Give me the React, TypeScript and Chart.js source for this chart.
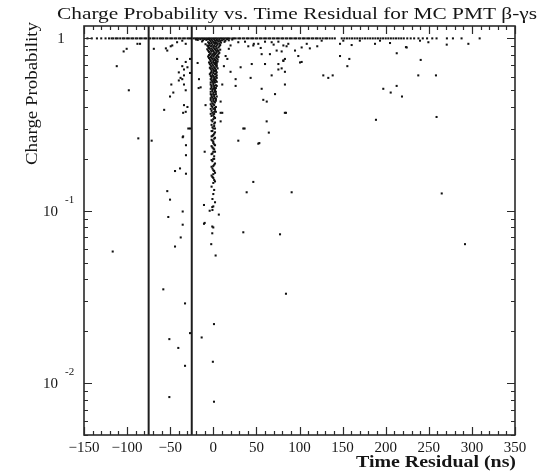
import React, { useEffect, useRef } from "react";
import { Chart, registerables } from "chart.js";

Chart.register(...registerables);

// Axis ranges: time residual (ns) and charge probability (log)
const TIME_RANGE = [-150, 350];
const PROB_RANGE = [0.005, 1.18];

// Time-residual selection cuts (ns)
const cutTimes = [-75, -25];

// Tick labels
const xTickValues = [-150, -100, -50, 0, 50, 100, 150, 200, 250, 300, 350];
const yTickValues = [1, 0.1, 0.01];
const yTickBases = ["1", "10", "10"];
const yTickExponents = ["", "-1", "-2"];

const TITLE = "Charge Probability vs. Time Residual for MC PMT \u03b2-\u03b3s";
const X_TITLE = "Time Residual (ns)";
const Y_TITLE = "Charge Probability";

// Hits that saturate at charge probability 1 (time residual, ns)
const ridgeTimes = [
  -146, -141, -135, -130, -125, -121, -118, -116, -113, -111, -108, -105, -103, -100, -98, -95,
  -93, -90, -88, -85, -83, -80, -78, -75, -73, -70, -68, -65, -62, -60, -58, -55, -53, -50, -48,
  -45, -43, -40, -38, -35, -33, -30, -28, -26, -23, -21, -19, -17, -15, -13, -11, -9, -7, -5, -3,
  -1, 1, 3, 5, 7, 9, 11, 13, 15, 17, 19, 22, 24, 26, 29, 31, 34, 36, 39, 41, 44, 46, 49, 51, 54,
  56, 59, 61, 64, 66, 69, 71, 74, 76, 79, 81, 84, 86, 89, 91, 94, 96, 99, 101, 104, 106, 109, 111,
  114, 116, 119, 121, 124, 127, 130, 132, 135, 138, 141, 149, 152, 155, 158, 161, 164, 167, 170,
  173, 176, 179, 182, 185, 188, 191, 194, 197, 200, 203, 206, 209, 212, 215, 218, 221, 225, 229,
  233, 238, 243, 248, 254, 259, 271, 278, 288, 309,
];

// Prompt peak hits [time residual ns, charge probability]
const promptHits: [number, number][] = [
  [-8, 0.98], [-5, 0.99], [-2, 0.985], [1, 0.99], [4, 0.98], [7, 0.985], [10, 0.975],
  [-6, 0.95], [-3, 0.96], [0, 0.955], [3, 0.95], [6, 0.96], [9, 0.945],
  [-9, 0.925], [-4, 0.93], [-1, 0.92], [2, 0.93], [5, 0.925], [8, 0.915],
  [-6, 0.895], [-3, 0.9], [0, 0.89], [3, 0.895], [6, 0.885],
  [-7, 0.865], [-4, 0.87], [-1, 0.86], [2, 0.865], [5, 0.855], [8, 0.86],
  [-5, 0.835], [-2, 0.84], [1, 0.83], [4, 0.835], [7, 0.825],
  [-4, 0.81], [-1, 0.805], [2, 0.81], [5, 0.8],
  [-6, 0.785], [-3, 0.78], [0, 0.785], [3, 0.775], [6, 0.78],
  [-4, 0.755], [-1, 0.76], [2, 0.75], [5, 0.755],
  [-3, 0.735], [0, 0.73], [3, 0.725], [5, 0.735],
  [-4, 0.71], [-1, 0.705], [2, 0.71], [4, 0.7],
  [-2, 0.685], [1, 0.68], [4, 0.685],
  [-3, 0.665], [0, 0.66], [3, 0.655],
  [-2, 0.64], [1, 0.645], [4, 0.635],
  [-4, 0.62], [-1, 0.615], [2, 0.62],
  [-2, 0.6], [1, 0.595], [3, 0.6],
  [-3, 0.58], [0, 0.575], [2, 0.58],
  [-1, 0.56], [2, 0.555], [4, 0.56],
  [-3, 0.54], [0, 0.54], [3, 0.535],
  [-2, 0.52], [1, 0.52], [3, 0.515],
  [-1, 0.505], [2, 0.5],
  [-3, 0.49], [0, 0.485], [3, 0.49],
  [-2, 0.47], [1, 0.47],
  [-1, 0.455], [2, 0.45], [4, 0.46],
  [-3, 0.44], [0, 0.435],
  [-1, 0.42], [2, 0.425],
  [-2, 0.405], [1, 0.41], [3, 0.4],
  [0, 0.39], [-2, 0.38], [2, 0.385],
  [-1, 0.37], [1, 0.365],
  [-2, 0.355], [1, 0.35],
  [0, 0.34], [-1, 0.33], [2, 0.325],
  [-2, 0.315], [1, 0.31],
  [0, 0.3], [-1, 0.29], [2, 0.285],
  [0, 0.275], [-2, 0.27],
  [1, 0.262], [-1, 0.255],
  [0, 0.247], [2, 0.24],
  [-1, 0.233], [1, 0.227],
  [0, 0.22], [-2, 0.213],
  [1, 0.207], [0, 0.2],
  [-1, 0.194], [2, 0.188],
  [0, 0.182], [-1, 0.176],
  [1, 0.17], [0, 0.163],
  [-1, 0.157], [1, 0.151],
  [0, 0.145], [-2, 0.138], [1, 0.132], [0, 0.125], [-1, 0.117], [2, 0.112], [0, 0.106], [-1, 0.101],
  // denser body of the peak
  [-7, 0.99], [-4, 0.975], [-1, 0.97], [2, 0.97], [5, 0.97], [8, 0.965],
  [-5, 0.94], [-2, 0.94], [1, 0.94], [4, 0.94], [7, 0.935],
  [-7, 0.91], [-5, 0.91], [-2, 0.905], [1, 0.905], [4, 0.91], [7, 0.9],
  [-5, 0.88], [-2, 0.875], [1, 0.875], [4, 0.875],
  [-6, 0.85], [-3, 0.85], [0, 0.845], [3, 0.85], [6, 0.845],
  [-3, 0.82], [0, 0.815], [3, 0.82], [6, 0.815],
  [-5, 0.8], [-2, 0.795], [1, 0.795], [4, 0.79],
  [-5, 0.77], [-2, 0.77], [1, 0.765], [4, 0.765],
  [-3, 0.745], [0, 0.745], [3, 0.74],
  [-2, 0.72], [1, 0.72], [4, 0.72], [-5, 0.725],
  [-3, 0.695], [0, 0.695], [3, 0.695],
  [-4, 0.675], [-1, 0.67], [2, 0.67], [5, 0.67],
  [-2, 0.65], [1, 0.65], [3, 0.645],
  [-3, 0.63], [0, 0.63], [3, 0.625],
  [-3, 0.605], [0, 0.605], [4, 0.61],
  [-2, 0.59], [1, 0.585], [4, 0.59],
  [-2, 0.57], [1, 0.565], [3, 0.57],
  [-3, 0.555], [0, 0.55],
  [-2, 0.53], [1, 0.53], [4, 0.53],
  [-3, 0.51], [0, 0.51], [2, 0.51],
  [-1, 0.495], [2, 0.49],
  [-3, 0.475], [0, 0.475], [3, 0.475],
  [-2, 0.46], [1, 0.46],
  [-3, 0.45], [0, 0.445], [3, 0.445],
  [-2, 0.43], [1, 0.43], [3, 0.435],
  [-3, 0.415], [0, 0.415],
  [-1, 0.4], [2, 0.395],
  [-3, 0.39], [1, 0.375], [3, 0.375],
  [-3, 0.365], [0, 0.36],
  [2, 0.345], [-2, 0.335], [1, 0.32], [-1, 0.305], [2, 0.3], [-2, 0.29], [1, 0.28], [-1, 0.272],
  [2, 0.265], [-2, 0.258], [0, 0.252], [1, 0.243], [-2, 0.237], [0, 0.23], [2, 0.22], [-1, 0.215],
  [1, 0.2], [-2, 0.197], [1, 0.185], [-2, 0.18], [0, 0.172], [2, 0.166], [-2, 0.16], [0, 0.155],
  [2, 0.148],
  // top of the peak, just below saturation
  [-18, 0.98], [-15, 0.99], [-12, 0.975], [-10, 0.99], [12, 0.985], [14, 0.97], [16, 0.99],
  [18, 0.975], [-13, 0.96], [13, 0.955], [22, 0.985], [-20, 0.985],
];

// Early hits, before the prompt peak
const earlyHits: [number, number][] = [
  [-88, 0.93], [-85, 0.93], [-100.5, 0.87], [-104, 0.84], [-112, 0.69], [-98, 0.5], [-87, 0.263],
  [-116.7, 0.058], [-71.5, 0.255], [-69, 0.87], [-55, 0.875], [-53.4, 0.85], [-49.4, 0.9],
  [-47.6, 0.91], [-42, 0.95], [-36, 0.97], [-32, 0.93], [-42, 0.76], [-36, 0.69], [-34, 0.66],
  [-30, 0.68], [-32, 0.73], [-40, 0.635], [-38, 0.59], [-36, 0.58], [-34, 0.61], [-40, 0.57],
  [-48.7, 0.54], [-46.4, 0.485], [-50.2, 0.46], [-34, 0.54], [-32, 0.5], [-57, 0.385], [-34, 0.41],
  [-32, 0.375], [-30, 0.4], [-27, 0.76], [-27, 0.63], [-35, 0.37], [-27, 0.3], [-35, 0.27],
  [-29, 0.3], [-35.5, 0.267], [-31.7, 0.24], [-31.7, 0.21], [-44.4, 0.17], [-38.6, 0.176],
  [-31.7, 0.164], [-53.4, 0.13], [-50.2, 0.116], [-35.5, 0.099], [-52.2, 0.092], [-35.5, 0.083],
  [-37.8, 0.07], [-44.4, 0.062], [-58, 0.035], [-32.8, 0.029], [-51, 0.018], [-40.6, 0.016],
  [-32.8, 0.0126], [-51, 0.0083], [-27, 0.0195], [-16.6, 0.58], [-18.2, 0.72], [-17, 0.515],
  [-14.7, 0.52], [-9, 0.41], [-10, 0.22], [-10.8, 0.108], [-4.2, 0.1], [-10.8, 0.084],
  [-13.5, 0.0184], [-10, 0.085],
];

// Late hits, after the prompt peak
const lateHits: [number, number][] = [
  [6.4, 0.095], [0, 0.08], [-1.2, 0.074], [-2.4, 0.064], [2.7, 0.055], [0.8, 0.022], [-0.5, 0.0133],
  [0.8, 0.0078], [-1.2, 0.105], [-1.2, 0.081], [18, 0.87], [20, 0.91], [14.3, 0.79], [16.3, 0.76],
  [12.3, 0.69], [20, 0.64], [31.7, 0.68], [44.6, 0.71], [60, 0.71], [75.5, 0.71], [81.3, 0.74],
  [75.5, 0.66], [79.3, 0.67], [83.1, 0.64], [25.9, 0.58], [43.3, 0.59], [67.7, 0.61], [10.4, 0.54],
  [25.9, 0.53], [56.1, 0.51], [83.1, 0.54], [71.6, 0.475], [58, 0.44], [62, 0.43], [8.5, 0.43],
  [83, 0.37], [8.5, 0.37], [56.1, 0.81], [65.7, 0.81], [73.5, 0.85], [79.3, 0.84], [83.1, 0.76],
  [98.6, 0.79], [102.5, 0.73], [29, 0.95], [36.8, 0.957], [40.6, 0.9], [46.4, 0.91], [52.2, 0.93],
  [60, 0.957], [67.7, 0.95], [75.5, 0.957], [81.3, 0.91], [87, 0.93], [94.8, 0.85], [102.5, 0.886],
  [108.4, 0.93], [47, 0.93], [55, 0.88], [70, 0.92], [85, 0.9], [100.6, 0.725], [81.2, 0.745],
  [112, 0.875], [120.6, 0.9], [125.7, 0.97], [147, 0.93], [150.8, 0.97], [160.5, 0.915], [170, 0.97],
  [193.4, 0.97], [205, 0.94], [187.6, 0.93], [224.4, 0.886], [239.8, 0.97], [249.5, 0.95],
  [212.8, 0.82], [147, 0.79], [157.8, 0.76], [155.5, 0.69], [240.6, 0.75], [127.6, 0.61],
  [133.4, 0.59], [138.5, 0.61], [237.8, 0.61], [258.3, 0.61], [197.2, 0.51], [205.8, 0.485],
  [212.7, 0.53], [218.9, 0.46], [270.8, 0.92], [295.9, 0.93], [188.7, 0.337], [259, 0.35],
  [223.5, 0.89], [36.3, 0.3], [64.4, 0.284], [29, 0.255], [52.2, 0.245], [61.9, 0.33], [46.4, 0.147],
  [38.7, 0.128], [90.9, 0.128], [77.4, 0.073], [84.3, 0.033], [34.8, 0.075], [265, 0.126],
  [292, 0.064], [84.3, 0.37], [34.8, 0.3], [10.4, 0.37], [8.5, 0.33], [53.4, 0.247],
];

const SERIF = "'Liberation Serif', 'Times New Roman', Times, serif";
const INK = "#151515";

function drawText(
  ctx: CanvasRenderingContext2D,
  text: string,
  x: number,
  y: number,
  font: string,
  align: CanvasTextAlign,
  baseline: CanvasTextBaseline,
  width?: number,
  rotate = 0
) {
  ctx.save();
  ctx.font = font;
  const w = ctx.measureText(text).width;
  const sx = width ? width / w : 1;
  ctx.translate(x, y);
  if (rotate) ctx.rotate(rotate);
  ctx.scale(sx, 1);
  ctx.textAlign = align;
  ctx.textBaseline = baseline;
  ctx.fillStyle = INK;
  ctx.fillText(text, 0, 0);
  ctx.restore();
}

// ROOT-style frame: box with inward ticks on all four sides, plus labels and titles
const framePlugin = {
  id: "rootFrame",
  afterDatasetsDraw(chart: any) {
    const { ctx, chartArea: a, scales } = chart;
    const xs = scales.x;
    const ys = scales.y;
    ctx.save();
    ctx.strokeStyle = "#2a2a2a";
    ctx.lineWidth = 1.6;
    ctx.strokeRect(a.left, a.top, a.right - a.left, a.bottom - a.top);

    ctx.lineWidth = 1.2;
    ctx.beginPath();
    for (let t = TIME_RANGE[0]; t <= TIME_RANGE[1]; t += 10) {
      const px = Math.round(xs.getPixelForValue(t)) + 0.5;
      const len = t % 50 === 0 ? 8 : 4;
      ctx.moveTo(px, a.bottom);
      ctx.lineTo(px, a.bottom - len);
      ctx.moveTo(px, a.top);
      ctx.lineTo(px, a.top + len);
    }
    for (const decade of [0.001, 0.01, 0.1, 1]) {
      for (let m = 1; m <= 9; m++) {
        const v = decade * m;
        if (v < PROB_RANGE[0] * 0.999 || v > PROB_RANGE[1]) continue;
        const py = Math.round(ys.getPixelForValue(v)) + 0.5;
        const len = m === 1 ? 8 : 4;
        ctx.moveTo(a.left, py);
        ctx.lineTo(a.left + len, py);
        ctx.moveTo(a.right, py);
        ctx.lineTo(a.right - len, py);
      }
    }
    ctx.stroke();
    ctx.restore();

    // x tick labels
    for (const t of xTickValues) {
      const label = t < 0 ? "\u2212" + Math.abs(t) : String(t);
      drawText(ctx, label, xs.getPixelForValue(t), a.bottom + 17, `15px ${SERIF}`, "center", "alphabetic");
    }
    // y tick labels
    yTickValues.forEach((v, i) => {
      const py = ys.getPixelForValue(v);
      if (!yTickExponents[i]) {
        drawText(ctx, yTickBases[i], 61, py + 1, `15px ${SERIF}`, "center", "middle");
      } else {
        drawText(ctx, yTickBases[i], 58, py + 1, `15px ${SERIF}`, "right", "middle");
        drawText(ctx, yTickExponents[i], 65, py - 11, `11px ${SERIF}`, "left", "middle");
      }
    });

    // titles
    drawText(ctx, TITLE, 57, 19, `17px ${SERIF}`, "left", "alphabetic", 480);
    drawText(ctx, X_TITLE, 516, 467, `bold 16px ${SERIF}`, "right", "alphabetic", 160);
    drawText(ctx, Y_TITLE, 37, 22, `16px ${SERIF}`, "right", "alphabetic", 143, -Math.PI / 2);
  },
};

export default function App() {
  const canvasRef = useRef<HTMLCanvasElement | null>(null);

  useEffect(() => {
    document.body.style.margin = "0";
    const canvas = canvasRef.current;
    if (!canvas) return;

    const hitStyle = {
      showLine: false,
      pointStyle: "rect",
      pointRadius: 1.45,
      pointBorderWidth: 0,
      pointBackgroundColor: "#111",
      pointHoverRadius: 1.45,
    };

    const cutDatasets = cutTimes.map((t) => ({
      data: [
        { x: t, y: PROB_RANGE[0] },
        { x: t, y: PROB_RANGE[1] },
      ],
      showLine: true,
      borderColor: "#1e1e1e",
      borderWidth: 2,
      pointRadius: 0,
    }));

    const chart = new Chart(canvas, {
      type: "scatter",
      data: {
        datasets: [
          { ...hitStyle, data: ridgeTimes.map((t) => ({ x: t, y: 1 })) },
          { ...hitStyle, data: promptHits.map(([x, y]) => ({ x, y })) },
          { ...hitStyle, data: earlyHits.map(([x, y]) => ({ x, y })) },
          { ...hitStyle, data: lateHits.map(([x, y]) => ({ x, y })) },
          ...cutDatasets,
        ] as any,
      },
      options: {
        responsive: false,
        devicePixelRatio: 1,
        animation: false,
        layout: { padding: { left: 84, right: 24, top: 26, bottom: 37 } },
        scales: {
          x: { type: "linear", min: TIME_RANGE[0], max: TIME_RANGE[1], display: false },
          y: { type: "logarithmic", min: PROB_RANGE[0], max: PROB_RANGE[1], display: false },
        },
        plugins: { legend: { display: false }, tooltip: { enabled: false } },
        events: [],
      } as any,
      plugins: [framePlugin],
    });

    return () => chart.destroy();
  }, []);

  return (
    <div style={{ width: 539, height: 472, background: "#fff" }}>
      <canvas ref={canvasRef} width={539} height={472} style={{ display: "block" }} />
    </div>
  );
}
